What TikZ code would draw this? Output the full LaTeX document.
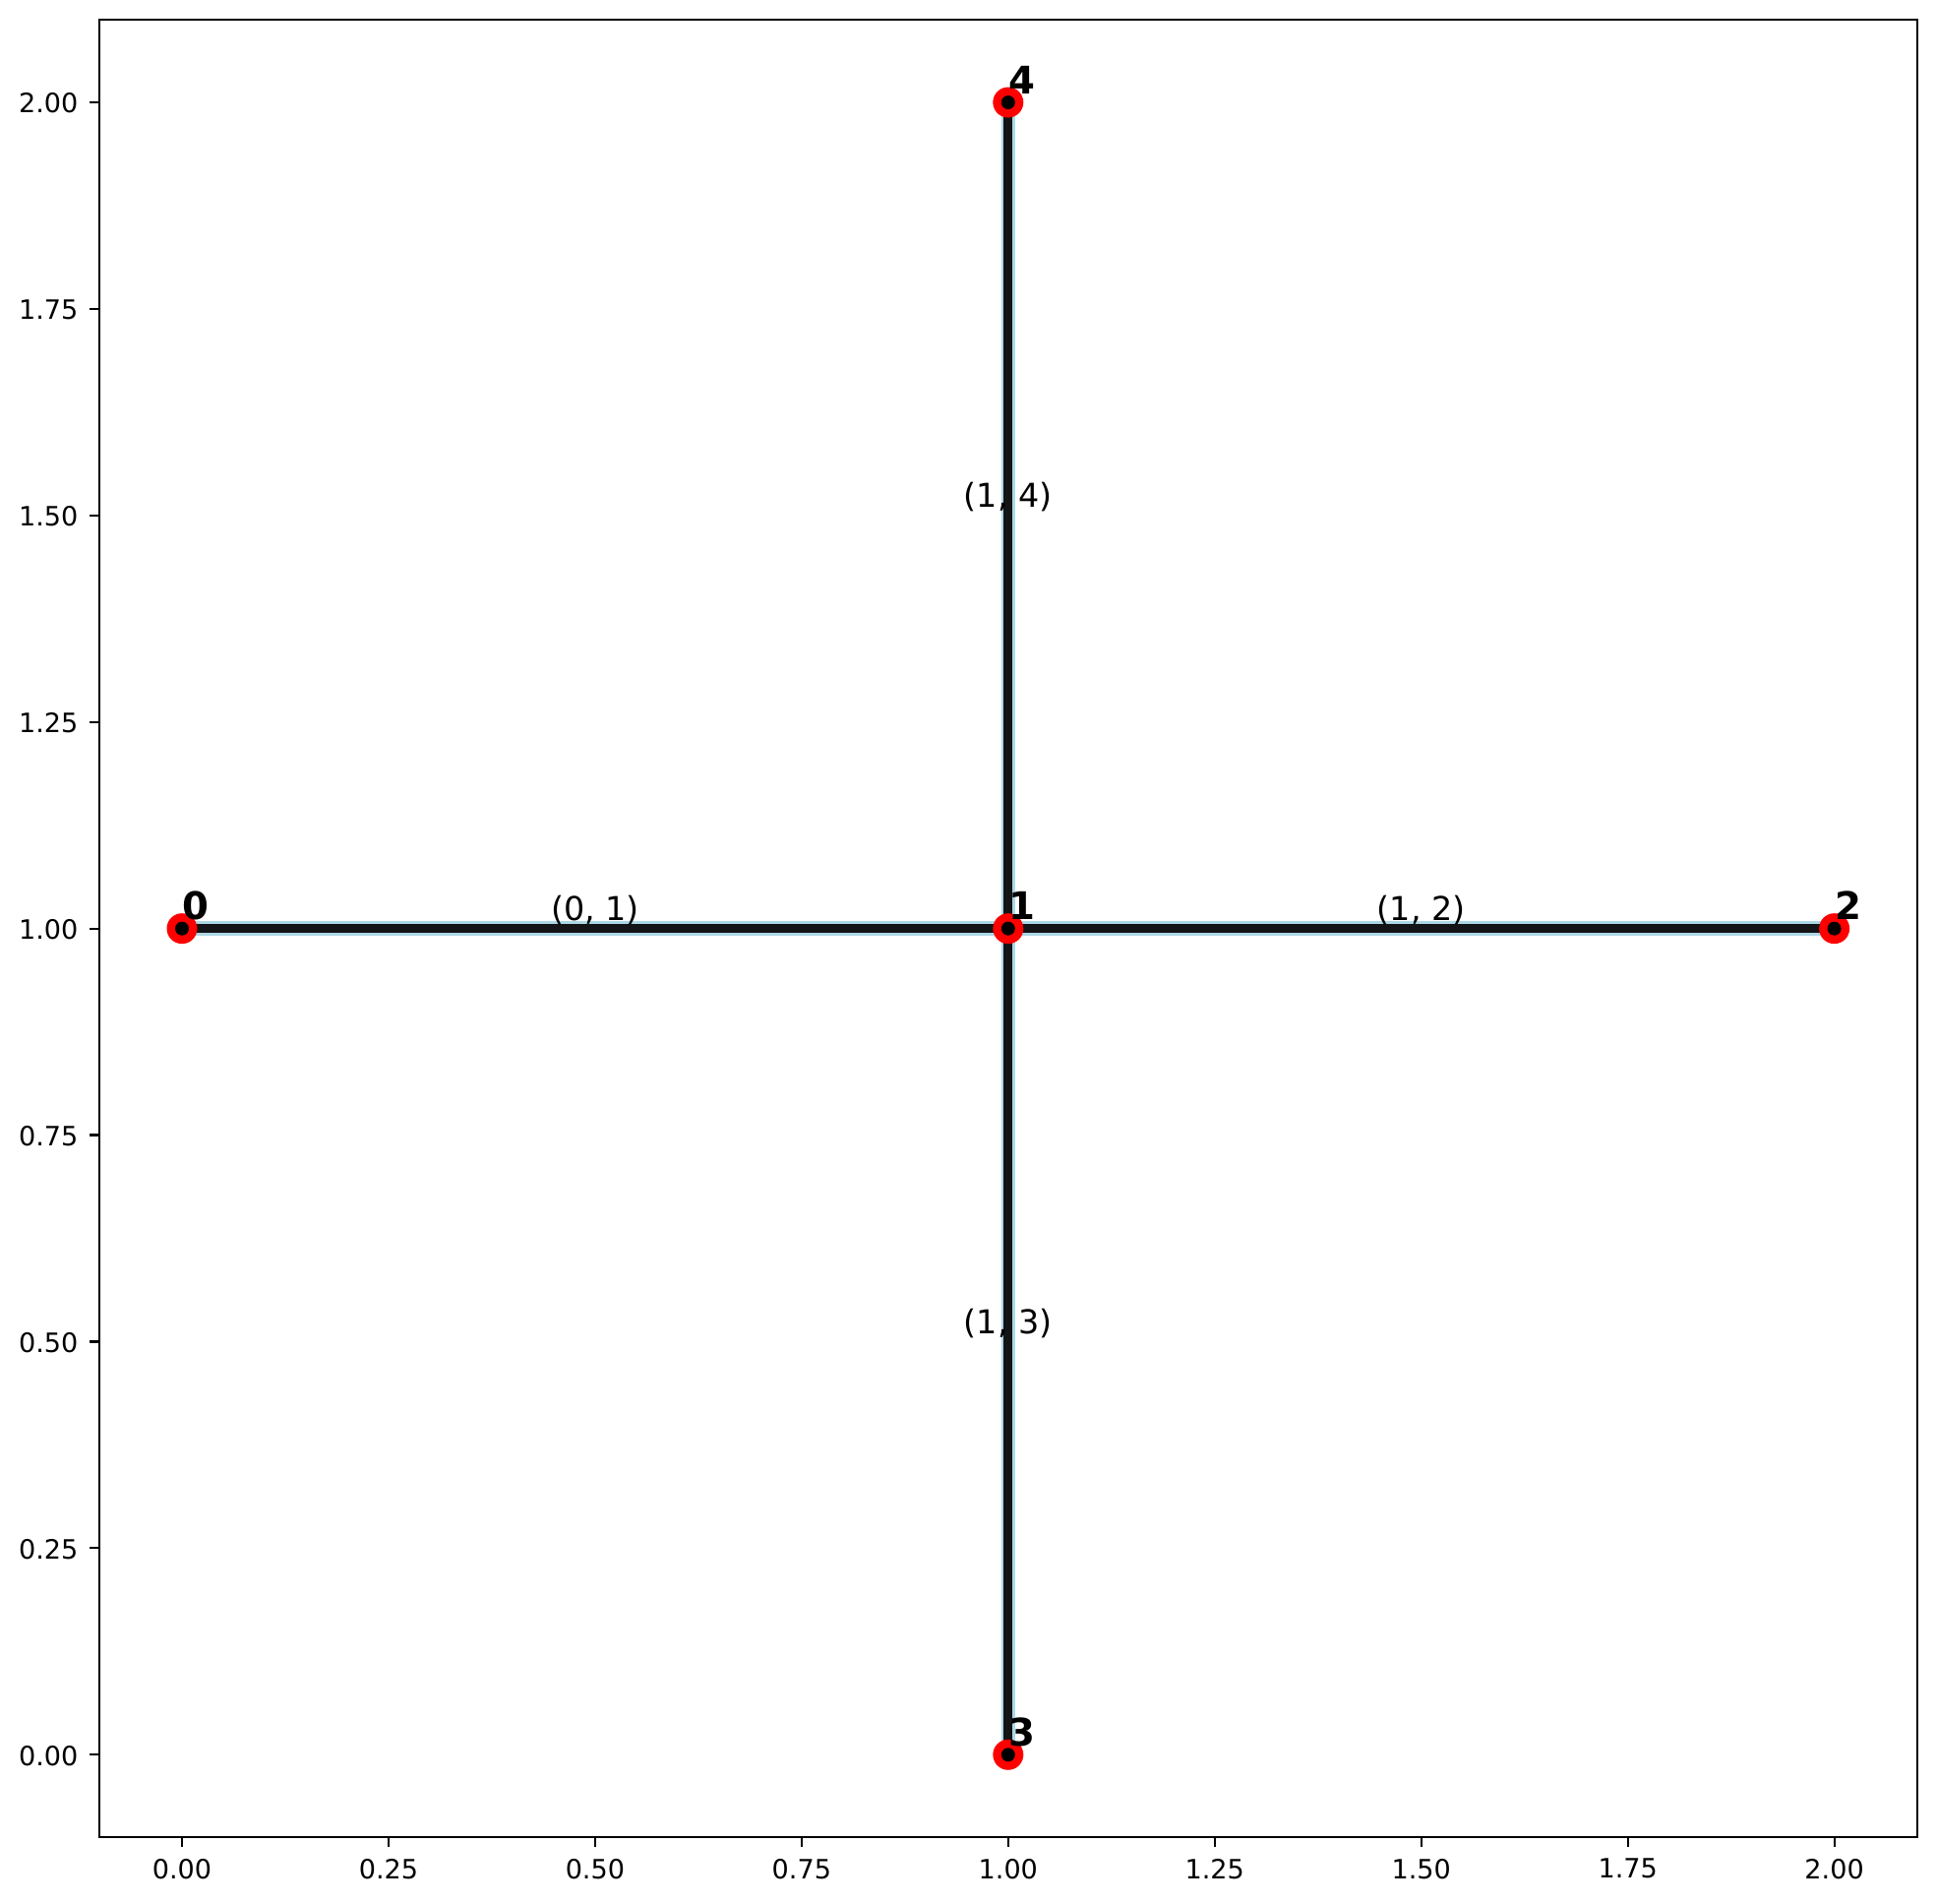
\documentclass[tikz,border=0pt]{standalone}
\usepackage{fontspec}
\setmainfont{DejaVu Sans}
\usetikzlibrary{calc}
\definecolor{edgeblue}{RGB}{173,216,230}
\definecolor{edgedark}{RGB}{18,20,22}
\begin{document}
\begin{tikzpicture}
\useasboundingbox (0,0) rectangle (19.69,19.35);
\begin{scope}[shift={(1.85,1.517)}, x=8.398cm, y=8.396cm]
\tikzset{
  frame/.style={line width=0.022cm, black},
  tickmark/.style={line width=0.022cm, black},
  ticklab/.style={inner sep=0pt, font=\fontsize{7.7}{9}\selectfont},
  edgeback/.style={line width=0.145cm, edgeblue},
  edgefront/.style={line width=0.09cm, edgedark},
  vert/.style={circle, fill=red, minimum size=0.31cm, inner sep=0pt},
  vertdot/.style={circle, fill=black, minimum size=0.14cm, inner sep=0pt},
  nlab/.style={inner sep=0pt, anchor=base west, yshift=0.09cm, font=\fontsize{11}{13}\selectfont\bfseries},
  elab/.style={inner sep=0pt, anchor=base, yshift=0.08cm, font=\fontsize{9.5}{11}\selectfont}
}
% ticks and tick labels
\foreach \t/\l in {0/0.00,0.25/0.25,0.5/0.50,0.75/0.75,1/1.00,1.25/1.25,1.5/1.50,1.75/1.75,2/2.00}{
  \draw[tickmark] (\t,-0.1) -- ++(0,-0.1cm);
  \node[ticklab, anchor=north] (xl\t) at ($(\t,-0.1)+(0,-0.21cm)$) {\l};
  \draw[tickmark] (-0.1,\t) -- ++(-0.1cm,0);
  \node[ticklab, anchor=east] (yl\t) at ($(-0.1,\t)+(-0.21cm,-0.01cm)$) {\l};
}
% vertex positions
\coordinate (p0) at (0,1);
\coordinate (p1) at (1,1);
\coordinate (p2) at (2,1);
\coordinate (p3) at (1,0);
\coordinate (p4) at (1,2);
% edges
\foreach \a/\b in {p0/p1,p1/p2,p1/p3,p1/p4}{
  \draw[edgeback] (\a) -- (\b);
}
\foreach \a/\b in {p0/p1,p1/p2,p1/p3,p1/p4}{
  \draw[edgefront] (\a) -- (\b);
}
% edge labels
\node[elab] (e01) at ($(p0)!0.5!(p1)$) {(0, 1)};
\node[elab] (e12) at ($(p1)!0.5!(p2)$) {(1, 2)};
\node[elab] (e14) at ($(p1)!0.5!(p4)$) {(1, 4)};
\node[elab] (e13) at ($(p1)!0.5!(p3)$) {(1, 3)};
% vertices
\foreach \i in {0,1,2,3,4}{
  \node[vert] (n\i) at (p\i) {};
  \node[vertdot] (d\i) at (p\i) {};
  \node[nlab] (l\i) at (p\i) {\i};
}
% frame
\draw[frame] (-0.1,-0.1) rectangle (2.1,2.1);
\end{scope}
\end{tikzpicture}
\end{document}
